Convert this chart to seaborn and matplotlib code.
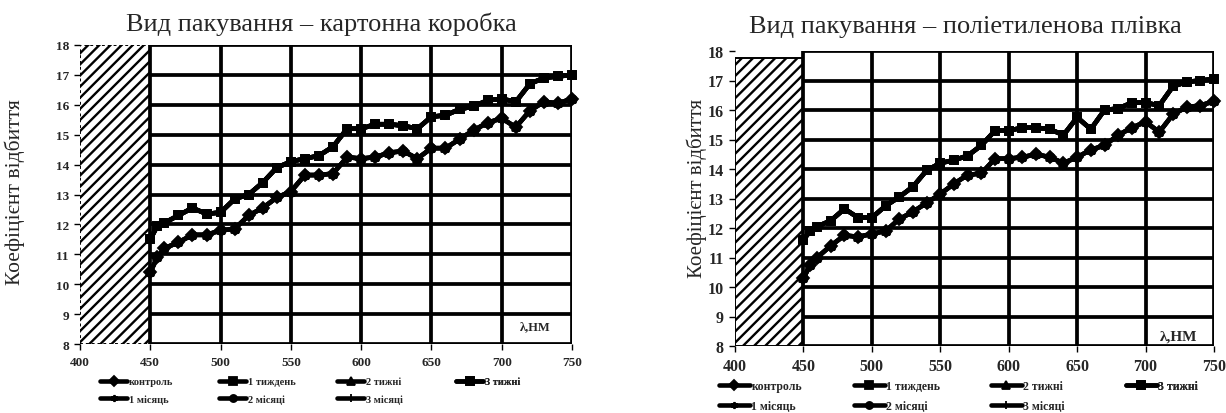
import numpy as np
import pandas as pd
import seaborn as sns
import matplotlib.pyplot as plt
from matplotlib.patches import Rectangle

# wavelength, nm
nm = [450, 455, 460, 470, 480, 490, 500, 510, 520, 530, 540, 550, 560, 570, 580, 590,
      600, 610, 620, 630, 640, 650, 660, 670, 680, 690, 700, 710, 720, 730, 740, 750]

# картонна коробка
box_hi = [11.5, 11.95, 12.05, 12.3, 12.55, 12.35, 12.4, 12.85, 13.0, 13.4, 13.9, 14.1, 14.2, 14.3,
          14.6, 15.2, 15.2, 15.35, 15.35, 15.3, 15.2, 15.6, 15.65, 15.85, 15.95, 16.15, 16.2,
          16.1, 16.7, 16.9, 16.95, 17.0]
box_lo = [10.4, 10.9, 11.2, 11.4, 11.65, 11.65, 11.8, 11.85, 12.3, 12.55, 12.9, 13.1, 13.65, 13.65,
          13.7, 14.25, 14.2, 14.25, 14.4, 14.45, 14.2, 14.55, 14.55, 14.85, 15.15, 15.4, 15.55,
          15.25, 15.8, 16.1, 16.05, 16.2]

# поліетиленова плівка
film_hi = [11.6, 11.9, 12.05, 12.25, 12.65, 12.35, 12.35, 12.75, 13.05, 13.4, 13.95, 14.2, 14.3,
           14.45, 14.8, 15.3, 15.3, 15.4, 15.4, 15.35, 15.15, 15.75, 15.35, 16.0, 16.05, 16.25,
           16.25, 16.15, 16.8, 16.95, 17.0, 17.05]
film_lo = [10.3, 10.75, 11.0, 11.4, 11.75, 11.7, 11.8, 11.9, 12.3, 12.55, 12.85, 13.15, 13.5, 13.8,
           13.85, 14.35, 14.35, 14.4, 14.5, 14.4, 14.2, 14.4, 14.65, 14.8, 15.15, 15.4, 15.6,
           15.25, 15.85, 16.1, 16.15, 16.3]

series = ["контроль", "1 тиждень", "2 тижні", "3 тижні", "1 місяць", "2 місяці", "3 місяці"]
markers = ["D", "s", "^", "s", (6, 2, 0), "o", "+"]
group = ["lo", "hi", "lo", "hi", "hi", "lo", "hi"]

sns.set_theme(style="white")
plt.rcParams['font.family'] = ['Liberation Serif', 'DejaVu Serif']
plt.rcParams['hatch.linewidth'] = 1.7


def panel(ax, hi, lo, hatch_top, tick_fs, xpad, leg_fs, leg_x, leg_y, row_gap, lam_y, lam_fs,
          dotted):
    curves = {"hi": hi, "lo": lo}
    for name, mk, g in zip(series, markers, group):
        sns.lineplot(x=nm, y=curves[g], ax=ax, color="black", lw=3.3, marker=mk,
                     markersize=6, markeredgecolor="black", markeredgewidth=1.3,
                     label=name, zorder=4, clip_on=False)
    ax.set_xlim(400, 750)
    ax.set_ylim(8, 18)
    for s in ax.spines.values():
        s.set_visible(False)
    ax.hlines(range(8, 19), 450, 750, color="black", lw=2.7, zorder=2)
    ax.vlines(range(450, 751, 50), 8, 18, color="black", lw=2.7, zorder=2)
    ax.add_patch(Rectangle((400, 8), 50, hatch_top - 8, facecolor="white", edgecolor="black",
                           hatch="///", lw=1.4, ls=(0, (1.5, 1.5)) if dotted else "-",
                           zorder=1))
    ax.set_xticks(range(400, 751, 50))
    ax.set_yticks(range(8, 19))
    ax.tick_params(axis="both", labelsize=tick_fs, length=4, width=1, color="black",
                   direction="out", bottom=True, left=True, pad=4)
    ax.tick_params(axis="x", pad=xpad)
    for lab in ax.get_xticklabels() + ax.get_yticklabels():
        lab.set_fontweight("bold")
    ax.set_xlabel("")
    ax.set_ylabel("")
    ax.text(724, lam_y, "λ,НМ", ha="center", va="center", fontsize=lam_fs, fontweight="bold",
            zorder=5)

    handles, labels = ax.get_legend_handles_labels()
    ax.get_legend().remove()
    hd = dict(zip(labels, handles))
    cols = [["контроль", "1 місяць"], ["1 тиждень", "2 місяці"], ["2 тижні", "3 місяці"],
            ["3 тижні"]]
    for cx, names in zip(leg_x, cols):
        leg = ax.legend([hd[n] for n in names], names, loc="upper left",
                        bbox_to_anchor=(cx, leg_y), frameon=False, handlelength=2.6,
                        handletextpad=0.15, labelspacing=row_gap, borderaxespad=0,
                        borderpad=0, markerscale=0.85,
                        prop={"size": leg_fs, "weight": "bold", "family": "Liberation Serif"})
        ax.add_artist(leg)


fig = plt.figure(figsize=(12.26, 4.14), dpi=100)
ax1 = fig.add_axes([80 / 1226, 1 - 345 / 414, 492 / 1226, 299 / 414])
ax2 = fig.add_axes([735 / 1226, 1 - 347 / 414, 479 / 1226, 295 / 414])

panel(ax1, box_hi, box_lo, 18, 9.5, 5, 7.5,
      [(100 - 80) / 492, (219 - 80) / 492, (337 - 80) / 492, (456 - 80) / 492],
      -0.11, 0.75, 8.6, 9, True)
panel(ax2, film_hi, film_lo, 17.75, 11.5, 5, 8.5,
      [(719 - 735) / 479, (854 - 735) / 479, (991 - 735) / 479, (1126 - 735) / 479],
      -0.115, 0.7, 8.35, 11, False)

fig.text(321 / 1226, 1 - 24 / 414, "Вид пакування – картонна коробка", ha="center",
         va="center", fontsize=19)
fig.text(965 / 1226, 1 - 27 / 414, "Вид пакування – поліетиленова плівка", ha="center",
         va="center", fontsize=19)
fig.text(15 / 1226, 1 - 192 / 414, "Коефіцієнт відбиття", rotation=90, ha="center",
         va="center", fontsize=15.5)
fig.text(697 / 1226, 1 - 188 / 414, "Коефіцієнт відбиття", rotation=90, ha="center",
         va="center", fontsize=15)

fig.savefig("out.png", dpi=100, facecolor="white")
